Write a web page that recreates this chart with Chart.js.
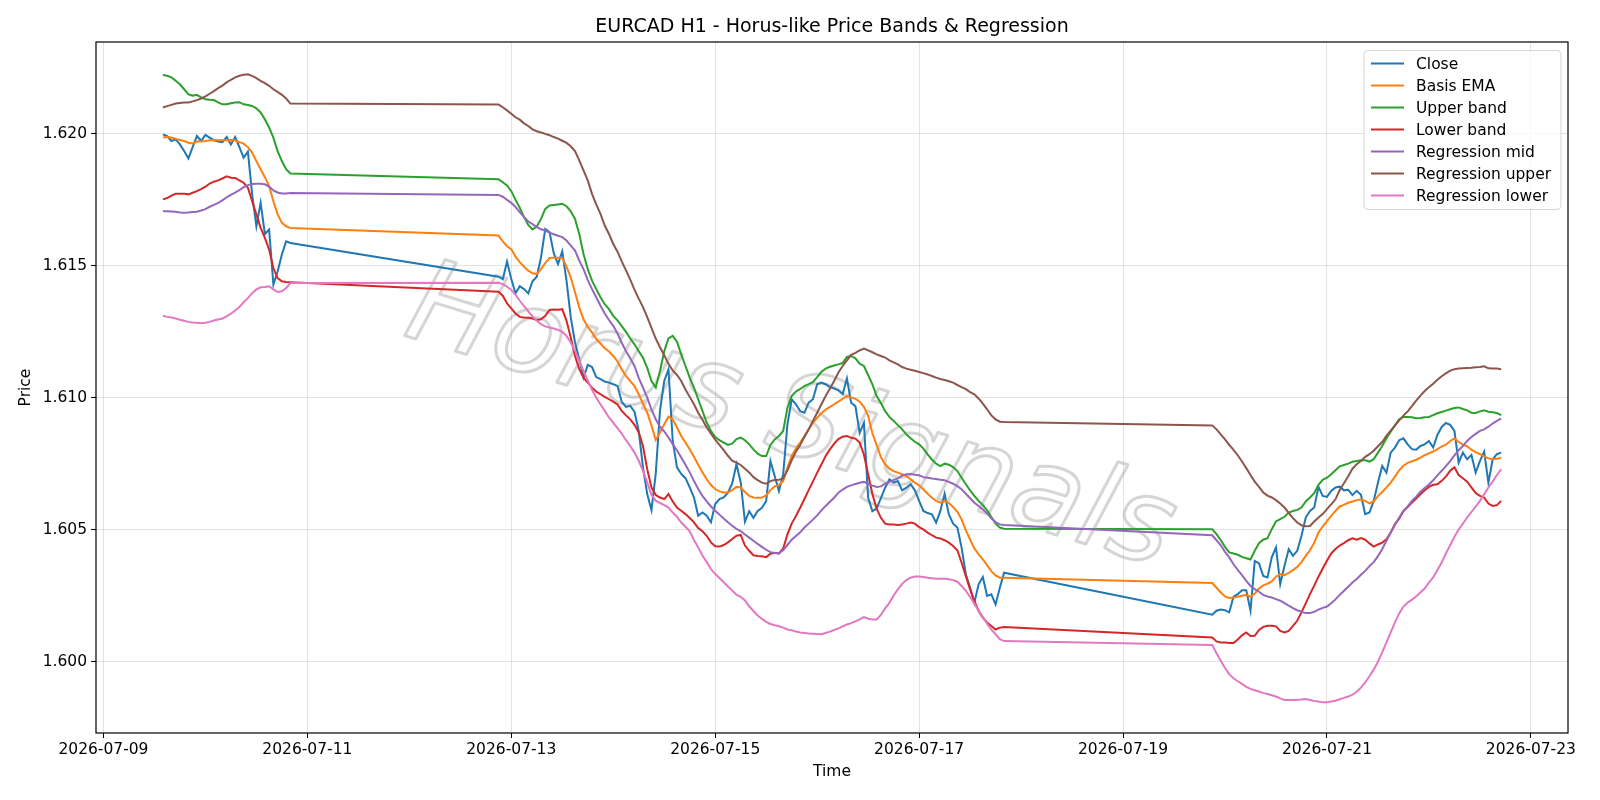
<!DOCTYPE html>
<html>
<head>
<meta charset="utf-8">
<title>EURCAD H1 - Horus-like Price Bands & Regression</title>
<script src="https://cdn.jsdelivr.net/npm/chart.js@4.4.1/dist/chart.umd.min.js"></script>
<style>
  html, body { margin: 0; padding: 0; background: #fff; }
  #chart { display: block; }
</style>
</head>
<body>
<canvas id="chart" width="1600" height="800"></canvas>
<script>
// H1 bars, weekends removed. Offsets are days counted from 2026-07-09 00:00
const segmentStarts = [14 / 24, 3 + 21 / 24, 10 + 21 / 24];
const segmentLengths = [31, 120, 69];

const closeVals = [
  1.61997, 1.61991, 1.61972, 1.61978, 1.61959, 1.61934, 1.61906, 1.61949, 1.61991, 1.61972, 1.61995, 1.61985, 1.61975, 1.61970, 1.61968, 1.61987, 1.61959, 1.61987, 1.61949, 1.61909, 1.61932, 1.61770, 1.61649, 1.61738, 1.61620, 1.61637, 1.61428, 1.61478, 1.61542, 1.61592, 1.61586,
  1.61458, 1.61449, 1.61516, 1.61449, 1.61395, 1.61422, 1.61411, 1.61395, 1.61441, 1.61458, 1.61532, 1.61639, 1.61627, 1.61547, 1.61506, 1.61554, 1.61443, 1.61304, 1.61209, 1.61146, 1.61076, 1.61124, 1.61116, 1.61078, 1.61070, 1.61061, 1.61057, 1.61051, 1.61044,
  1.60984, 1.60965, 1.60969, 1.60947, 1.60874, 1.60736, 1.60635, 1.60574, 1.60711, 1.60950, 1.61063, 1.61107, 1.60836, 1.60736, 1.60711, 1.60695, 1.60660, 1.60622, 1.60553, 1.60565, 1.60553, 1.60528, 1.60597, 1.60616, 1.60622, 1.60640, 1.60675, 1.60748,
  1.60680, 1.60530, 1.60570, 1.60545, 1.60571, 1.60583, 1.60609, 1.60760, 1.60703, 1.60646, 1.60710, 1.60899, 1.60994, 1.60975, 1.60949, 1.60943, 1.60981, 1.60994, 1.61051, 1.61057, 1.61051, 1.61040, 1.61035, 1.61028, 1.61013, 1.61073, 1.60981, 1.60968, 1.60867, 1.60905, 1.60621,
  1.60570, 1.60580, 1.60620, 1.60659, 1.60691, 1.60678, 1.60684, 1.60649, 1.60659, 1.60672, 1.60649, 1.60609, 1.60571, 1.60563, 1.60558, 1.60527, 1.60571, 1.60636, 1.60558, 1.60523, 1.60508, 1.60432, 1.60331, 1.60280, 1.60223, 1.60293, 1.60321, 1.60249, 1.60255, 1.60217, 1.60280, 1.60337,
  1.60178, 1.60193, 1.60198, 1.60195, 1.60187, 1.60246, 1.60256, 1.60271, 1.60271, 1.60193, 1.60382, 1.60372, 1.60325, 1.60319, 1.60395, 1.60433, 1.60294, 1.60363, 1.60426, 1.60401, 1.60420, 1.60477, 1.60546, 1.60571, 1.60584, 1.60662, 1.60628, 1.60624, 1.60647, 1.60660,
  1.60663, 1.60649, 1.60651, 1.60631, 1.60647, 1.60632, 1.60559, 1.60565, 1.60609, 1.60678, 1.60741, 1.60716, 1.60792, 1.60811, 1.60839, 1.60846, 1.60823, 1.60805, 1.60803, 1.60817, 1.60823, 1.60836, 1.60811, 1.60859, 1.60889, 1.60904, 1.60897, 1.60874, 1.60754, 1.60792, 1.60767, 1.60783, 1.60716, 1.60760, 1.60796, 1.60678, 1.60766, 1.60786, 1.60792
];

const basisEma = [
  1.61985, 1.61987, 1.61985, 1.61980, 1.61976, 1.61972, 1.61965, 1.61963, 1.61970, 1.61971, 1.61972, 1.61975, 1.61976, 1.61975, 1.61975, 1.61975, 1.61976, 1.61975, 1.61968, 1.61962, 1.61949, 1.61928, 1.61896, 1.61865, 1.61835, 1.61801, 1.61744, 1.61694, 1.61662, 1.61649, 1.61643,
  1.61614, 1.61592, 1.61573, 1.61562, 1.61534, 1.61513, 1.61496, 1.61481, 1.61471, 1.61468, 1.61487, 1.61510, 1.61529, 1.61530, 1.61530, 1.61529, 1.61496, 1.61456, 1.61399, 1.61342, 1.61297, 1.61268, 1.61247, 1.61222, 1.61205, 1.61187, 1.61175, 1.61158, 1.61137,
  1.61107, 1.61082, 1.61063, 1.61044, 1.61013, 1.60977, 1.60943, 1.60895, 1.60840, 1.60868, 1.60899, 1.60928, 1.60918, 1.60887, 1.60855, 1.60830, 1.60805, 1.60776, 1.60746, 1.60717, 1.60691, 1.60669, 1.60654, 1.60645, 1.60641, 1.60641, 1.60650, 1.60662,
  1.60660, 1.60643, 1.60628, 1.60622, 1.60621, 1.60622, 1.60630, 1.60650, 1.60664, 1.60669, 1.60684, 1.60735, 1.60778, 1.60807, 1.60830, 1.60855, 1.60880, 1.60905, 1.60924, 1.60941, 1.60955, 1.60965, 1.60975, 1.60985, 1.60996, 1.61006, 1.61001, 1.60996, 1.60985, 1.60965, 1.60931,
  1.60865, 1.60820, 1.60775, 1.60748, 1.60731, 1.60722, 1.60716, 1.60710, 1.60703, 1.60691, 1.60678, 1.60668, 1.60653, 1.60636, 1.60621, 1.60609, 1.60602, 1.60609, 1.60601, 1.60586, 1.60568, 1.60539, 1.60497, 1.60463, 1.60429, 1.60407, 1.60388, 1.60365, 1.60343, 1.60327, 1.60318, 1.60318,
  1.60298, 1.60280, 1.60262, 1.60247, 1.60241, 1.60243, 1.60246, 1.60250, 1.60253, 1.60246, 1.60258, 1.60277, 1.60289, 1.60296, 1.60304, 1.60322, 1.60332, 1.60328, 1.60336, 1.60347, 1.60359, 1.60377, 1.60401, 1.60422, 1.60451, 1.60489, 1.60512, 1.60532, 1.60552, 1.60571,
  1.60588, 1.60594, 1.60602, 1.60607, 1.60612, 1.60614, 1.60609, 1.60600, 1.60607, 1.60627, 1.60643, 1.60660, 1.60678, 1.60701, 1.60725, 1.60742, 1.60753, 1.60759, 1.60765, 1.60773, 1.60782, 1.60789, 1.60796, 1.60805, 1.60815, 1.60822, 1.60836, 1.60846, 1.60832, 1.60822, 1.60816, 1.60803, 1.60794, 1.60786, 1.60778, 1.60770, 1.60767, 1.60769, 1.60773
];

const upperBand = [
  1.62222, 1.62219, 1.62213, 1.62200, 1.62187, 1.62168, 1.62149, 1.62144, 1.62147, 1.62137, 1.62130, 1.62128, 1.62127, 1.62118, 1.62111, 1.62111, 1.62115, 1.62118, 1.62119, 1.62111, 1.62108, 1.62105, 1.62096, 1.62080, 1.62054, 1.62023, 1.61985, 1.61934, 1.61896, 1.61865, 1.61849,
  1.61827, 1.61816, 1.61804, 1.61782, 1.61749, 1.61719, 1.61684, 1.61654, 1.61637, 1.61648, 1.61677, 1.61715, 1.61728, 1.61730, 1.61732, 1.61734, 1.61725, 1.61706, 1.61677, 1.61620, 1.61544, 1.61487, 1.61443, 1.61411, 1.61380, 1.61354, 1.61335, 1.61310, 1.61293,
  1.61271, 1.61249, 1.61224, 1.61202, 1.61176, 1.61151, 1.61113, 1.61063, 1.61038, 1.61101, 1.61176, 1.61224, 1.61234, 1.61212, 1.61164, 1.61120, 1.61076, 1.61038, 1.60994, 1.60950, 1.60906, 1.60874, 1.60851, 1.60839, 1.60830, 1.60821, 1.60826, 1.60843,
  1.60849, 1.60839, 1.60823, 1.60804, 1.60788, 1.60779, 1.60779, 1.60821, 1.60842, 1.60855, 1.60874, 1.60962, 1.61006, 1.61023, 1.61033, 1.61044, 1.61051, 1.61059, 1.61078, 1.61098, 1.61110, 1.61117, 1.61122, 1.61126, 1.61131, 1.61154, 1.61158, 1.61149, 1.61129, 1.61120, 1.61086,
  1.61050, 1.61006, 1.60980, 1.60949, 1.60927, 1.60912, 1.60896, 1.60880, 1.60861, 1.60846, 1.60833, 1.60823, 1.60807, 1.60785, 1.60766, 1.60750, 1.60741, 1.60750, 1.60746, 1.60737, 1.60722, 1.60697, 1.60672, 1.60649, 1.60628, 1.60609, 1.60593, 1.60573, 1.60548, 1.60523, 1.60508, 1.60504,
  1.60502, 1.60483, 1.60460, 1.60435, 1.60414, 1.60410, 1.60405, 1.60397, 1.60392, 1.60387, 1.60420, 1.60449, 1.60462, 1.60468, 1.60502, 1.60531, 1.60540, 1.60549, 1.60565, 1.60571, 1.60575, 1.60584, 1.60607, 1.60622, 1.60638, 1.60670, 1.60689, 1.60697, 1.60710, 1.60725,
  1.60740, 1.60745, 1.60750, 1.60757, 1.60760, 1.60763, 1.60763, 1.60758, 1.60767, 1.60792, 1.60817, 1.60846, 1.60871, 1.60895, 1.60918, 1.60927, 1.60927, 1.60926, 1.60922, 1.60923, 1.60926, 1.60927, 1.60934, 1.60941, 1.60946, 1.60951, 1.60956, 1.60961, 1.60963, 1.60957, 1.60952, 1.60943, 1.60942, 1.60948, 1.60952, 1.60947, 1.60945, 1.60942, 1.60934
];

const lowerBand = [
  1.61751, 1.61756, 1.61765, 1.61772, 1.61772, 1.61772, 1.61770, 1.61776, 1.61782, 1.61790, 1.61799, 1.61811, 1.61818, 1.61823, 1.61830, 1.61838, 1.61833, 1.61832, 1.61823, 1.61814, 1.61795, 1.61744, 1.61694, 1.61643, 1.61605, 1.61561, 1.61491, 1.61453, 1.61441, 1.61438, 1.61437,
  1.61401, 1.61386, 1.61357, 1.61338, 1.61319, 1.61306, 1.61304, 1.61303, 1.61300, 1.61294, 1.61297, 1.61310, 1.61332, 1.61334, 1.61333, 1.61335, 1.61291, 1.61228, 1.61158, 1.61108, 1.61076, 1.61057, 1.61038, 1.61023, 1.61013, 1.61003, 1.60994, 1.60985, 1.60974,
  1.60950, 1.60933, 1.60918, 1.60897, 1.60868, 1.60817, 1.60729, 1.60660, 1.60631, 1.60622, 1.60616, 1.60635, 1.60607, 1.60584, 1.60572, 1.60559, 1.60544, 1.60528, 1.60506, 1.60494, 1.60477, 1.60452, 1.60437, 1.60436, 1.60442, 1.60452, 1.60465, 1.60477,
  1.60480, 1.60440, 1.60420, 1.60403, 1.60400, 1.60399, 1.60396, 1.60409, 1.60413, 1.60409, 1.60429, 1.60482, 1.60523, 1.60552, 1.60583, 1.60616, 1.60650, 1.60682, 1.60716, 1.60747, 1.60779, 1.60804, 1.60826, 1.60843, 1.60852, 1.60855, 1.60848, 1.60845, 1.60830, 1.60785, 1.60710,
  1.60635, 1.60580, 1.60545, 1.60523, 1.60520, 1.60520, 1.60518, 1.60520, 1.60523, 1.60527, 1.60523, 1.60510, 1.60501, 1.60489, 1.60479, 1.60470, 1.60467, 1.60460, 1.60451, 1.60438, 1.60422, 1.60375, 1.60324, 1.60274, 1.60230, 1.60192, 1.60167, 1.60148, 1.60135, 1.60122, 1.60129, 1.60131,
  1.60092, 1.60077, 1.60073, 1.60073, 1.60071, 1.60071, 1.60084, 1.60100, 1.60111, 1.60097, 1.60098, 1.60120, 1.60132, 1.60136, 1.60136, 1.60134, 1.60117, 1.60111, 1.60117, 1.60136, 1.60155, 1.60187, 1.60221, 1.60256, 1.60288, 1.60322, 1.60353, 1.60382, 1.60410, 1.60427,
  1.60440, 1.60449, 1.60460, 1.60467, 1.60462, 1.60468, 1.60462, 1.60448, 1.60436, 1.60444, 1.60451, 1.60464, 1.60489, 1.60521, 1.60542, 1.60571, 1.60586, 1.60603, 1.60618, 1.60634, 1.60649, 1.60662, 1.60670, 1.60672, 1.60685, 1.60701, 1.60723, 1.60736, 1.60707, 1.60695, 1.60682, 1.60660, 1.60639, 1.60628, 1.60622, 1.60599, 1.60590, 1.60593, 1.60609
];

const regMid = [
  1.61706, 1.61706, 1.61705, 1.61704, 1.61701, 1.61700, 1.61701, 1.61703, 1.61704, 1.61709, 1.61714, 1.61723, 1.61730, 1.61738, 1.61747, 1.61759, 1.61768, 1.61777, 1.61786, 1.61797, 1.61805, 1.61809, 1.61810, 1.61810, 1.61808, 1.61799, 1.61785, 1.61777, 1.61773, 1.61773, 1.61775,
  1.61768, 1.61761, 1.61749, 1.61738, 1.61722, 1.61703, 1.61684, 1.61667, 1.61657, 1.61646, 1.61638, 1.61633, 1.61625, 1.61619, 1.61613, 1.61608, 1.61595, 1.61576, 1.61557, 1.61519, 1.61487, 1.61446, 1.61411, 1.61380, 1.61348, 1.61319, 1.61294, 1.61272, 1.61243,
  1.61208, 1.61176, 1.61149, 1.61120, 1.61075, 1.61038, 1.61000, 1.60956, 1.60918, 1.60890, 1.60872, 1.60849, 1.60824, 1.60801, 1.60773, 1.60746, 1.60717, 1.60685, 1.60654, 1.60628, 1.60607,
  1.60588, 1.60572, 1.60557, 1.60542, 1.60528, 1.60515, 1.60503, 1.60495, 1.60482, 1.60470, 1.60458, 1.60446, 1.60435, 1.60424, 1.60415,
  1.60412, 1.60412, 1.60422, 1.60442, 1.60462, 1.60476, 1.60490, 1.60508, 1.60523, 1.60538, 1.60554, 1.60573, 1.60590, 1.60606, 1.60621, 1.60640, 1.60652, 1.60662, 1.60668, 1.60673, 1.60678, 1.60681, 1.60674,
  1.60667, 1.60662, 1.60664, 1.60674, 1.60681, 1.60688, 1.60694, 1.60705, 1.60710, 1.60711, 1.60708, 1.60706, 1.60699, 1.60697, 1.60694, 1.60692, 1.60689, 1.60687, 1.60681, 1.60674, 1.60665, 1.60653, 1.60636, 1.60619, 1.60602, 1.60590, 1.60577, 1.60561, 1.60543, 1.60529, 1.60520, 1.60518,
  1.60479, 1.60460, 1.60441, 1.60416, 1.60395, 1.60369, 1.60348, 1.60328, 1.60306, 1.60287, 1.60275, 1.60265, 1.60253, 1.60247, 1.60243, 1.60237, 1.60231, 1.60222, 1.60212, 1.60203, 1.60195, 1.60189, 1.60184, 1.60184, 1.60189, 1.60197, 1.60204, 1.60209, 1.60221, 1.60236,
  1.60253, 1.60269, 1.60284, 1.60300, 1.60313, 1.60329, 1.60344, 1.60362, 1.60377, 1.60400, 1.60426, 1.60458, 1.60489, 1.60518, 1.60546, 1.60569, 1.60588, 1.60609, 1.60625, 1.60644, 1.60658, 1.60671, 1.60687, 1.60706, 1.60723, 1.60741, 1.60760, 1.60781, 1.60801, 1.60817, 1.60836, 1.60851, 1.60863, 1.60874, 1.60880, 1.60890, 1.60902, 1.60912, 1.60921
];

const regUpper = [
  1.62099, 1.62104, 1.62109, 1.62114, 1.62116, 1.62118, 1.62118, 1.62122, 1.62127, 1.62133, 1.62141, 1.62151, 1.62161, 1.62172, 1.62182, 1.62194, 1.62204, 1.62213, 1.62219, 1.62223, 1.62225, 1.62219, 1.62210, 1.62200, 1.62191, 1.62181, 1.62168, 1.62158, 1.62147, 1.62133, 1.62114,
  1.62110, 1.62100, 1.62088, 1.62075, 1.62062, 1.62053, 1.62039, 1.62029, 1.62016, 1.62009, 1.62004, 1.61999, 1.61994, 1.61987, 1.61981, 1.61973, 1.61965, 1.61952, 1.61934, 1.61899, 1.61861, 1.61823, 1.61772, 1.61732, 1.61696, 1.61652, 1.61620, 1.61582, 1.61553,
  1.61516, 1.61482, 1.61447, 1.61409, 1.61375, 1.61343, 1.61305, 1.61264, 1.61224, 1.61191, 1.61161, 1.61128, 1.61103, 1.61086, 1.61063, 1.61031, 1.61003, 1.60975, 1.60943, 1.60916, 1.60887, 1.60864, 1.60841, 1.60821, 1.60801, 1.60780, 1.60761, 1.60754,
  1.60745, 1.60731, 1.60717, 1.60699, 1.60688, 1.60678, 1.60674, 1.60684, 1.60688, 1.60689, 1.60694, 1.60725, 1.60763, 1.60795, 1.60821, 1.60851, 1.60880, 1.60912, 1.60943, 1.60975, 1.61006, 1.61035, 1.61063, 1.61095, 1.61120, 1.61141, 1.61162, 1.61170, 1.61179, 1.61186, 1.61179,
  1.61172, 1.61164, 1.61158, 1.61152, 1.61141, 1.61134, 1.61126, 1.61116, 1.61110, 1.61106, 1.61102, 1.61097, 1.61093, 1.61088, 1.61082, 1.61076, 1.61071, 1.61067, 1.61062, 1.61057, 1.61048, 1.61040, 1.61032, 1.61021, 1.61013, 1.60997, 1.60977, 1.60956, 1.60933, 1.60918, 1.60909, 1.60908,
  1.60895, 1.60880, 1.60861, 1.60842, 1.60821, 1.60802, 1.60782, 1.60758, 1.60733, 1.60707, 1.60682, 1.60662, 1.60641, 1.60629, 1.60622, 1.60612, 1.60599, 1.60584, 1.60564, 1.60544, 1.60527, 1.60517, 1.60513, 1.60514, 1.60531, 1.60546, 1.60559, 1.60578, 1.60596, 1.60615,
  1.60650, 1.60676, 1.60702, 1.60731, 1.60748, 1.60760, 1.60776, 1.60786, 1.60799, 1.60816, 1.60832, 1.60855, 1.60875, 1.60894, 1.60914, 1.60932, 1.60948, 1.60968, 1.60989, 1.61008, 1.61025, 1.61039, 1.61053, 1.61068, 1.61081, 1.61092, 1.61102, 1.61108, 1.61110, 1.61111, 1.61112, 1.61113, 1.61115, 1.61116, 1.61119, 1.61111, 1.61110, 1.61110, 1.61108
];

const regLower = [
  1.61310, 1.61306, 1.61304, 1.61300, 1.61295, 1.61291, 1.61287, 1.61285, 1.61284, 1.61282, 1.61284, 1.61287, 1.61292, 1.61296, 1.61300, 1.61308, 1.61318, 1.61330, 1.61343, 1.61362, 1.61377, 1.61396, 1.61410, 1.61418, 1.61419, 1.61422, 1.61410, 1.61400, 1.61403, 1.61415, 1.61434,
  1.61435, 1.61430, 1.61420, 1.61408, 1.61389, 1.61367, 1.61347, 1.61327, 1.61308, 1.61291, 1.61278, 1.61270, 1.61266, 1.61262, 1.61257, 1.61249, 1.61234, 1.61209, 1.61177, 1.61139, 1.61101, 1.61065, 1.61030, 1.61000, 1.60975, 1.60950, 1.60925, 1.60905, 1.60885,
  1.60864, 1.60839, 1.60817, 1.60792, 1.60761, 1.60723, 1.60679, 1.60632, 1.60610, 1.60601, 1.60593, 1.60584, 1.60565, 1.60549, 1.60527, 1.60511, 1.60494, 1.60461, 1.60433, 1.60402, 1.60377, 1.60351, 1.60332, 1.60317, 1.60301, 1.60285, 1.60270, 1.60254,
  1.60246, 1.60232, 1.60210, 1.60192, 1.60175, 1.60162, 1.60151, 1.60143, 1.60138, 1.60134, 1.60129, 1.60122, 1.60119, 1.60114, 1.60111, 1.60109, 1.60107, 1.60106, 1.60105, 1.60104, 1.60109, 1.60114, 1.60120, 1.60126, 1.60134, 1.60141, 1.60146, 1.60153, 1.60160, 1.60169, 1.60163,
  1.60160, 1.60160, 1.60177, 1.60202, 1.60223, 1.60251, 1.60274, 1.60295, 1.60309, 1.60318, 1.60323, 1.60323, 1.60321, 1.60318, 1.60316, 1.60314, 1.60314, 1.60314, 1.60312, 1.60309, 1.60303, 1.60287, 1.60268, 1.60245, 1.60220, 1.60194, 1.60169, 1.60144, 1.60122, 1.60104, 1.60085, 1.60078,
  1.60063, 1.60032, 1.60004, 1.59976, 1.59953, 1.59937, 1.59926, 1.59916, 1.59905, 1.59897, 1.59892, 1.59887, 1.59881, 1.59878, 1.59873, 1.59868, 1.59861, 1.59855, 1.59855, 1.59855, 1.59856, 1.59857, 1.59859, 1.59855, 1.59851, 1.59849, 1.59846, 1.59846, 1.59849, 1.59852,
  1.59858, 1.59863, 1.59868, 1.59875, 1.59886, 1.59902, 1.59922, 1.59945, 1.59970, 1.60000, 1.60035, 1.60073, 1.60111, 1.60149, 1.60183, 1.60209, 1.60224, 1.60235, 1.60247, 1.60262, 1.60277, 1.60300, 1.60319, 1.60347, 1.60376, 1.60410, 1.60441, 1.60473, 1.60501, 1.60523, 1.60546, 1.60567, 1.60587, 1.60609, 1.60634, 1.60660, 1.60682, 1.60707, 1.60729
];

const yTicks = [1.600, 1.605, 1.610, 1.615, 1.620];
const xTickDays = [0, 2, 4, 6, 8, 10, 12, 14];

const FONT = '"DejaVu Sans", "Liberation Sans", sans-serif';

// build the hourly time index of every segment
const times = [];
segmentStarts.forEach((start, s) => {
  for (let i = 0; i < segmentLengths[s]; i++) times.push(start + i / 24);
});

function dayLabel(d) {
  const dt = new Date(Date.UTC(2026, 6, 9 + Math.round(d)));
  return dt.toISOString().slice(0, 10);
}

const series = [
  { label: 'Close', values: closeVals, color: '#1f77b4' },
  { label: 'Basis EMA', values: basisEma, color: '#ff7f0e' },
  { label: 'Upper band', values: upperBand, color: '#2ca02c' },
  { label: 'Lower band', values: lowerBand, color: '#d62728' },
  { label: 'Regression mid', values: regMid, color: '#9467bd' },
  { label: 'Regression upper', values: regUpper, color: '#8c564b' },
  { label: 'Regression lower', values: regLower, color: '#e377c2' },
];

const datasets = series.map((s, i) => ({
  label: s.label,
  data: s.values.map((v, j) => ({ x: times[j], y: v })),
  borderColor: s.color,
  backgroundColor: s.color,
  borderWidth: 2,
  pointRadius: 0,
  tension: 0,
  fill: false,
  order: series.length - i, // later series drawn on top, as in the original
}));

// title, axis titles, frame, legend and the watermark
const decorations = {
  id: 'decorations',
  beforeDatasetsDraw(chart) {
    const ctx = chart.ctx;
    ctx.save();
    ctx.translate(790, 422);
    ctx.rotate(17 * Math.PI / 180);
    ctx.font = 'italic 116px ' + FONT;
    ctx.textAlign = 'center';
    ctx.textBaseline = 'middle';
    ctx.lineJoin = 'round';
    ctx.lineWidth = 3;
    ctx.strokeStyle = 'rgba(150,150,150,0.4)';
    ctx.strokeText('Horus Signals', 0, 0);
    ctx.restore();
  },
  afterDraw(chart) {
    const { ctx, chartArea: a } = chart;
    const cx = (a.left + a.right) / 2;
    ctx.save();
    ctx.strokeStyle = '#000';
    ctx.lineWidth = 1.2;
    ctx.strokeRect(a.left, a.top, a.right - a.left, a.bottom - a.top);

    ctx.fillStyle = '#000';
    ctx.textAlign = 'center';
    ctx.textBaseline = 'middle';
    ctx.font = '19px ' + FONT;
    ctx.fillText('EURCAD H1 - Horus-like Price Bands & Regression', cx, 27);
    ctx.font = '15.5px ' + FONT;
    ctx.fillText('Time', cx, 772);
    ctx.save();
    ctx.translate(26, (a.top + a.bottom) / 2);
    ctx.rotate(-Math.PI / 2);
    ctx.fillText('Price', 0, 0);
    ctx.restore();

    // legend box
    const lx = 1364, ly = 50.5, lw = 197, lh = 159, r = 4;
    ctx.beginPath();
    ctx.moveTo(lx + r, ly);
    ctx.arcTo(lx + lw, ly, lx + lw, ly + lh, r);
    ctx.arcTo(lx + lw, ly + lh, lx, ly + lh, r);
    ctx.arcTo(lx, ly + lh, lx, ly, r);
    ctx.arcTo(lx, ly, lx + lw, ly, r);
    ctx.closePath();
    ctx.fillStyle = 'rgba(255,255,255,0.8)';
    ctx.fill();
    ctx.strokeStyle = 'rgba(204,204,204,0.8)';
    ctx.lineWidth = 1;
    ctx.stroke();

    ctx.textAlign = 'left';
    series.forEach((s, i) => {
      const y = 63.5 + i * 22;
      ctx.strokeStyle = s.color;
      ctx.lineWidth = 2;
      ctx.beginPath();
      ctx.moveTo(1371, y);
      ctx.lineTo(1404, y);
      ctx.stroke();
      ctx.fillStyle = '#000';
      ctx.fillText(s.label, 1416, y + 1);
    });
    ctx.restore();
  }
};

new Chart(document.getElementById('chart'), {
  type: 'line',
  data: { datasets },
  options: {
    responsive: false,
    animation: false,
    devicePixelRatio: 1,
    layout: { padding: { left: 0, right: 32, top: 42, bottom: 0 } },
    plugins: {
      legend: { display: false },
      title: { display: false },
      tooltip: { enabled: false },
    },
    scales: {
      x: {
        type: 'linear',
        min: -0.073,
        max: 14.364,
        afterFit: (scale) => { scale.height = 67; },
        afterBuildTicks: (scale) => { scale.ticks = xTickDays.map(v => ({ value: v })); },
        ticks: {
          callback: (v) => dayLabel(v),
          font: { family: FONT, size: 15.5 },
          color: '#000',
          padding: 3,
          maxRotation: 0,
          autoSkip: false,
        },
        grid: { color: 'rgba(176,176,176,0.35)', lineWidth: 1, tickColor: '#000', tickLength: 5 },
        border: { display: false },
      },
      y: {
        type: 'linear',
        min: 1.5973,
        max: 1.62347,
        afterFit: (scale) => { scale.width = 96; },
        afterBuildTicks: (scale) => { scale.ticks = yTicks.map(v => ({ value: v })); },
        ticks: {
          callback: (v) => v.toFixed(3),
          font: { family: FONT, size: 15.5 },
          color: '#000',
          padding: 4,
        },
        grid: { color: 'rgba(176,176,176,0.35)', lineWidth: 1, tickColor: '#000', tickLength: 5 },
        border: { display: false },
      },
    },
  },
  plugins: [decorations],
});
</script>
</body>
</html>
